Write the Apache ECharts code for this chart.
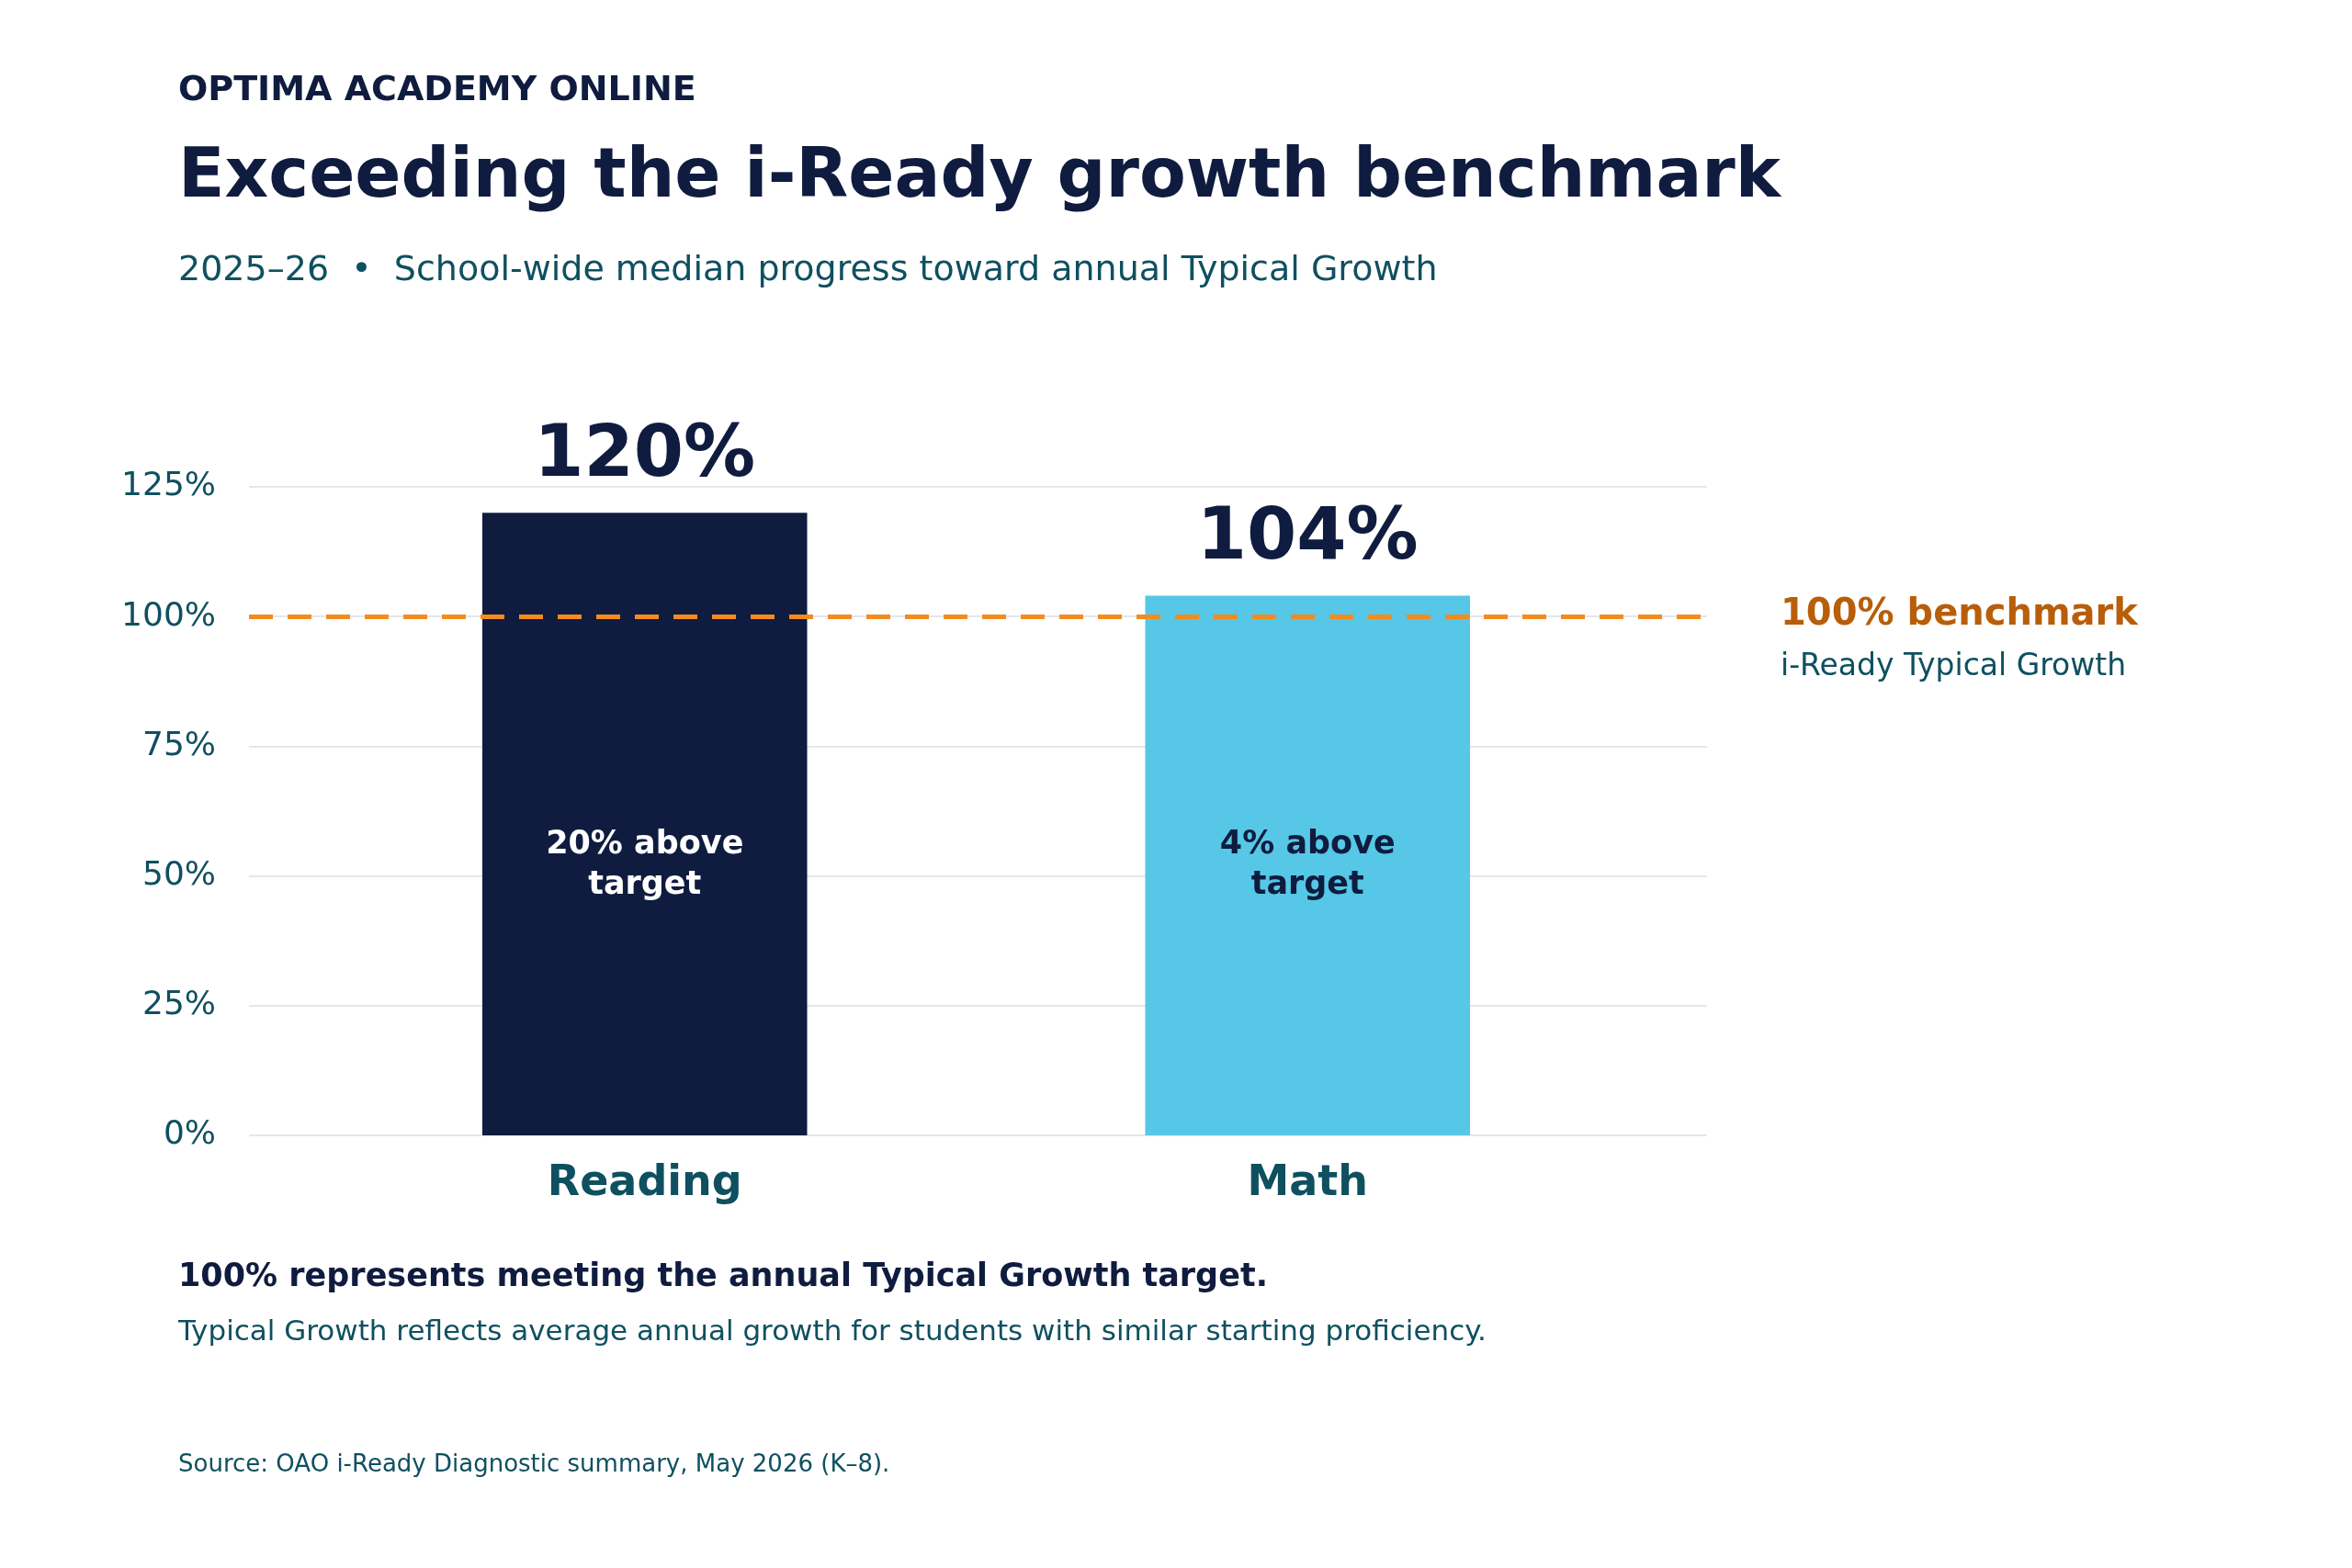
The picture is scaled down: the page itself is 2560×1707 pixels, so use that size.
<!DOCTYPE html>
<html>
<head>
<meta charset="utf-8">
<script src="https://cdn.jsdelivr.net/npm/echarts@6/dist/echarts.min.js"></script>
<style>html,body{margin:0;padding:0;background:#fff}#main{width:2560px;height:1707px}</style>
</head>
<body>
<div id="main"></div>
<script>
const categories = ["Reading", "Math"];
const values = [120, 104];
const insideLabels = ["20% above\ntarget", "4% above\ntarget"];
const barColors = ["#0f1c3f", "#56c7e6"];
const insideColors = ["#ffffff", "#0f1c3f"];
const benchmark = 100;
const insideLabelLevel = 104;

const navy = "#0f1c3f";
const teal = "#0f5060";
const font = "DejaVu Sans";

var myChart = echarts.init(document.getElementById("main"));

function txt(x, y, text, size, color, weight) {
  return {
    type: "text", left: x, top: y,
    style: { text: text, fontSize: size, fill: color, fontWeight: weight || "normal", fontFamily: font }
  };
}

var option = {
  backgroundColor: "#fff",
  textStyle: { fontFamily: font },
  grid: [
    { left: 271, right: 702, top: 530, bottom: 471 },
    { left: 341, right: 776, top: 530, bottom: 471 }
  ],
  xAxis: [
    { type: "category", gridIndex: 0, data: [""], show: false },
    {
      type: "category", gridIndex: 1,
      data: categories,
      axisLine: { show: false },
      axisTick: { show: false },
      axisLabel: { fontSize: 46, fontWeight: "bold", color: teal, margin: 30, fontFamily: font }
    }
  ],
  yAxis: [
    {
      type: "value", gridIndex: 0,
      min: 0, max: 125, interval: 25,
      axisLabel: { formatter: "{value}%", fontSize: 36, color: teal, margin: 36, fontFamily: font },
      splitLine: { lineStyle: { color: "#e3e8ea", width: 2 } }
    },
    { type: "value", gridIndex: 1, min: 0, max: 125, interval: 25, show: false }
  ],
  series: [
    {
      type: "bar", xAxisIndex: 1, yAxisIndex: 1,
      barWidth: "49%",
      data: values.map(function (v, i) {
        return { value: v, itemStyle: { color: barColors[i] } };
      }),
      label: {
        show: true, position: "top", distance: 22,
        formatter: "{c}%", fontSize: 78, fontWeight: "bold", color: navy, fontFamily: font
      },
      z: 2
    },
    {
      type: "bar", xAxisIndex: 1, yAxisIndex: 1,
      barWidth: "49%",
      barGap: "-100%",
      data: values.map(function (v, i) {
        return { value: insideLabelLevel, itemStyle: { color: "transparent" }, label: { color: insideColors[i] } };
      }),
      label: {
        show: true, position: "inside",
        formatter: function (p) { return insideLabels[p.dataIndex]; },
        fontSize: 35, fontWeight: "bold", lineHeight: 44, fontFamily: font
      },
      z: 3
    },
    {
      type: "line", xAxisIndex: 0, yAxisIndex: 0, data: [],
      markLine: {
        silent: true, symbol: "none",
        lineStyle: { color: "#f28c1e", type: [26, 16], width: 5 },
        label: { show: false },
        data: [{ yAxis: benchmark }]
      },
      z: 4
    }
  ],
  graphic: [
    txt(194, 80, "OPTIMA ACADEMY ONLINE", 38, navy, "bold"),
    txt(194, 158, "Exceeding the i-Ready growth benchmark", 74, navy, "bold"),
    txt(194, 276, "2025\u201326  \u2022  School-wide median progress toward annual Typical Growth", 38, teal),
    txt(1938, 650, "100% benchmark", 40, "#b85e0a", "bold"),
    txt(1938, 710, "i-Ready Typical Growth", 33, teal),
    txt(194, 1373, "100% represents meeting the annual Typical Growth target.", 35, navy, "bold"),
    txt(194, 1435, "Typical Growth reflects average annual growth for students with similar starting proficiency.", 31, teal),
    txt(194, 1582, "Source: OAO i-Ready Diagnostic summary, May 2026 (K\u20138).", 26, teal)
  ]
};

myChart.setOption(option);
</script>
</body>
</html>
